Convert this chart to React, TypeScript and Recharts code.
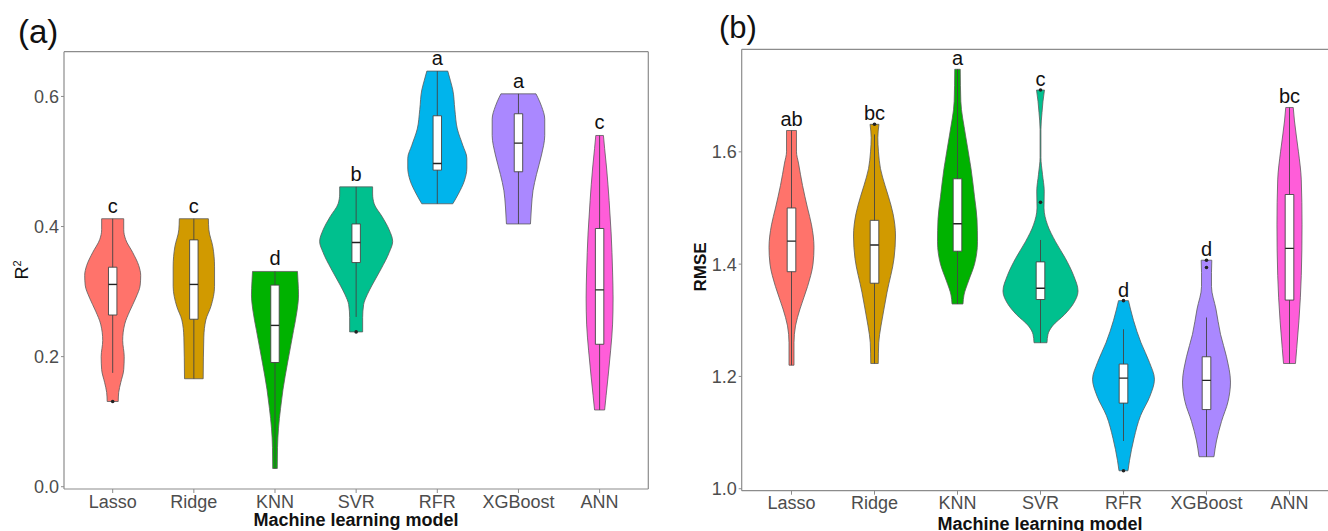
import { ComposedChart, Area, Line, Scatter, XAxis, YAxis, ReferenceLine } from "recharts";

const FONT = "'Liberation Sans', Arial, sans-serif";

const models = ["Lasso", "Ridge", "KNN", "SVR", "RFR", "XGBoost", "ANN"];
const fills = ["#FF736B", "#D19A00", "#00B200", "#00C08E", "#00B4EC", "#AA88FF", "#FF5DD9"];

// ---- panel (a): R2 ----
const r2Letters = ["c", "c", "d", "b", "a", "a", "c"];
const r2Q1 = [0.264, 0.2575, 0.191, 0.3446, 0.4867, 0.4842, 0.219];
const r2Median = [0.311, 0.311, 0.248, 0.3754, 0.497, 0.5283, 0.3026];
const r2Q3 = [0.3375, 0.3795, 0.31, 0.404, 0.5703, 0.5734, 0.397];
const r2WhiskerLow = [0.175, 0.166, 0.028, 0.261, 0.435, 0.404, 0.118];
const r2WhiskerHigh = [0.412, 0.412, 0.331, 0.461, 0.639, 0.604, 0.54];
const r2Outliers = [[0.131], [], [], [0.238], [], [], []];

// violin outlines: [value, half width in category units], bottom to top
const r2Lasso = [[0.131, 0.068], [0.145, 0.074], [0.16, 0.099], [0.18, 0.136], [0.2, 0.142], [0.225, 0.123], [0.25, 0.148], [0.27, 0.21], [0.29, 0.284], [0.31, 0.339], [0.325, 0.345], [0.34, 0.321], [0.36, 0.247], [0.38, 0.16], [0.395, 0.136], [0.412, 0.136]];
const r2Ridge = [[0.166, 0.115], [0.23, 0.123], [0.2565, 0.148], [0.277, 0.21], [0.308, 0.255], [0.338, 0.255], [0.369, 0.234], [0.395, 0.185], [0.412, 0.179]];
const r2Knn = [[0.028, 0.028], [0.06, 0.031], [0.09, 0.043], [0.12, 0.068], [0.15, 0.099], [0.19, 0.154], [0.24, 0.228], [0.27, 0.271], [0.295, 0.29], [0.315, 0.284], [0.331, 0.277]];
const r2Svr = [[0.238, 0.08], [0.26, 0.08], [0.28, 0.092], [0.295, 0.136], [0.31, 0.197], [0.335, 0.308], [0.36, 0.407], [0.377, 0.45], [0.395, 0.407], [0.415, 0.321], [0.435, 0.222], [0.45, 0.203], [0.461, 0.203]];
const r2Rfr = [[0.435, 0.191], [0.45, 0.259], [0.47, 0.333], [0.49, 0.364], [0.505, 0.364], [0.525, 0.314], [0.55, 0.247], [0.58, 0.216], [0.61, 0.191], [0.625, 0.16], [0.639, 0.129]];
const r2Xgb = [[0.404, 0.148], [0.43, 0.16], [0.455, 0.179], [0.48, 0.222], [0.51, 0.284], [0.54, 0.324], [0.565, 0.324], [0.585, 0.284], [0.598, 0.24], [0.604, 0.216]];
const r2Ann = [[0.118, 0.062], [0.14, 0.08], [0.17, 0.105], [0.21, 0.136], [0.25, 0.16], [0.29, 0.166], [0.33, 0.16], [0.39, 0.142], [0.44, 0.117], [0.49, 0.086], [0.52, 0.062], [0.54, 0.047]];
const r2Violins = [r2Lasso, r2Ridge, r2Knn, r2Svr, r2Rfr, r2Xgb, r2Ann];
const r2Ticks = [0, 0.2, 0.4, 0.6];

// ---- panel (b): RMSE ----
const rmseLetters = ["ab", "bc", "a", "c", "d", "d", "bc"];
const rmseQ1 = [1.3865, 1.366, 1.423, 1.337, 1.1525, 1.141, 1.336];
const rmseMedian = [1.441, 1.434, 1.472, 1.357, 1.197, 1.193, 1.428];
const rmseQ3 = [1.5, 1.478, 1.552, 1.404, 1.222, 1.235, 1.524];
const rmseWhiskerLow = [1.22, 1.223, 1.329, 1.26, 1.085, 1.057, 1.223];
const rmseWhiskerHigh = [1.638, 1.631, 1.747, 1.443, 1.284, 1.305, 1.679];
const rmseOutliers = [[], [1.649], [], [1.71, 1.51], [1.335, 1.032], [1.407, 1.394], []];

const rmseLasso = [[1.22, 0.03], [1.26, 0.03], [1.29, 0.048], [1.32, 0.102], [1.36, 0.193], [1.4, 0.259], [1.43, 0.271], [1.47, 0.241], [1.5, 0.193], [1.54, 0.133], [1.58, 0.084], [1.6, 0.06], [1.638, 0.06]];
const rmseRidge = [[1.223, 0.045], [1.26, 0.051], [1.29, 0.078], [1.32, 0.114], [1.35, 0.151], [1.41, 0.235], [1.45, 0.253], [1.49, 0.223], [1.52, 0.169], [1.54, 0.127], [1.57, 0.072], [1.6, 0.048], [1.625, 0.04], [1.649, 0.054]];
const rmseKnn = [[1.329, 0.066], [1.345, 0.078], [1.37, 0.133], [1.4, 0.205], [1.44, 0.241], [1.48, 0.235], [1.52, 0.205], [1.57, 0.163], [1.63, 0.096], [1.69, 0.04], [1.747, 0.033]];
const rmseSvr = [[1.26, 0.078], [1.275, 0.09], [1.29, 0.145], [1.31, 0.289], [1.33, 0.398], [1.352, 0.452], [1.38, 0.398], [1.41, 0.301], [1.44, 0.181], [1.47, 0.084], [1.5, 0.042], [1.53, 0.045], [1.56, 0.024], [1.59, 0.005], [1.64, 0.005], [1.67, 0.018], [1.69, 0.03], [1.71, 0.048]];
const rmseRfr = [[1.032, 0.054], [1.05, 0.072], [1.09, 0.127], [1.13, 0.205], [1.165, 0.319], [1.195, 0.373], [1.225, 0.313], [1.26, 0.211], [1.3, 0.12], [1.32, 0.084], [1.335, 0.06]];
const rmseXgb = [[1.057, 0.09], [1.085, 0.12], [1.12, 0.181], [1.155, 0.259], [1.19, 0.289], [1.235, 0.241], [1.275, 0.169], [1.32, 0.114], [1.36, 0.06], [1.385, 0.06], [1.407, 0.064]];
const rmseAnn = [[1.223, 0.072], [1.25, 0.087], [1.3, 0.114], [1.38, 0.142], [1.47, 0.151], [1.55, 0.142], [1.6, 0.108], [1.63, 0.081], [1.655, 0.06], [1.679, 0.045]];
const rmseViolins = [rmseLasso, rmseRidge, rmseKnn, rmseSvr, rmseRfr, rmseXgb, rmseAnn];
const rmseTicks = [1.0, 1.2, 1.4, 1.6];

const BOX = 0.052;
const X_DOMAIN = [0.4, 7.6];
const AXIS_GREY = "#8c8c8c";

type Seg = { pts: { x: number; y: number }[]; color: string; w: number };

function ViolinPanel(props: any) {
  const { violins, q1, med, q3, wl, wh, outliers, letters, yDomain, yTicks, width, margin, yAxisWidth, letterGap, tickFont } = props;

  const violinData = violins.map((prof: number[][], k: number) =>
    prof.map(([y, w]) => ({ y, r: [k + 1 - w, k + 1 + w] }))
  );
  const boxData = q1.map((lo: number, k: number) => [
    { y: lo, r: [k + 1 - BOX, k + 1 + BOX] },
    { y: q3[k], r: [k + 1 - BOX, k + 1 + BOX] },
  ]);

  const segs: Seg[] = [];
  const seg = (x1: number, y1: number, x2: number, y2: number, color = "#444", w = 0.9) => {
    segs.push({ pts: [{ x: x1, y: y1 }, { x: x2, y: y2 }], color, w });
  };
  violins.forEach((prof: number[][], k: number) => {
    const c = k + 1;
    const [yb, wb] = prof[0];
    const [yt, wt] = prof[prof.length - 1];
    seg(c - wb, yb, c + wb, yb, "#5a5a5a", 0.8);
    seg(c - wt, yt, c + wt, yt, "#5a5a5a", 0.8);
    seg(c, wl[k], c, q1[k]);
    seg(c, q3[k], c, wh[k]);
    seg(c - BOX, q1[k], c + BOX, q1[k]);
    seg(c - BOX, q3[k], c + BOX, q3[k]);
    seg(c - BOX, q1[k], c - BOX, q3[k]);
    seg(c + BOX, q1[k], c + BOX, q3[k]);
    seg(c - BOX, med[k], c + BOX, med[k], "#222", 1.4);
  });

  const outlierPts = outliers.flatMap((vals: number[], k: number) => vals.map((v) => ({ x: k + 1, y: v })));
  const letterPts = violins.map((prof: number[][], k: number) => ({
    x: k + 1,
    y: prof[prof.length - 1][0],
    t: letters[k],
  }));

  const tickStyle = { fill: "#4d4d4d", fontSize: tickFont, fontFamily: FONT };

  return (
    <ComposedChart width={width} height={531} layout="vertical" margin={margin}>
      <XAxis
        type="number"
        dataKey="x"
        domain={X_DOMAIN}
        ticks={[1, 2, 3, 4, 5, 6, 7]}
        tickFormatter={(v: number) => models[v - 1]}
        allowDataOverflow
        height={30}
        tickSize={4}
        tickMargin={2}
        tick={tickStyle}
        axisLine={{ stroke: AXIS_GREY, strokeWidth: 1.2 }}
        tickLine={{ stroke: AXIS_GREY }}
        interval={0}
      />
      <YAxis
        type="number"
        dataKey="y"
        reversed
        domain={yDomain}
        ticks={yTicks}
        tickFormatter={(v: number) => v.toFixed(1)}
        allowDataOverflow
        width={yAxisWidth}
        tickSize={3}
        tickMargin={2}
        tick={tickStyle}
        axisLine={{ stroke: AXIS_GREY, strokeWidth: 1.2 }}
        tickLine={{ stroke: AXIS_GREY }}
      />
      <ReferenceLine y={yDomain[1]} stroke={AXIS_GREY} strokeWidth={1.2} />
      <ReferenceLine x={X_DOMAIN[1]} stroke={AXIS_GREY} strokeWidth={1.2} />
      {violinData.map((d: any[], k: number) => (
        <Area
          key={"v" + k}
          data={d}
          dataKey="r"
          type="monotone"
          fill={fills[k]}
          fillOpacity={1}
          stroke="#5a5a5a"
          strokeWidth={0.8}
          dot={false}
          activeDot={false}
          isAnimationActive={false}
        />
      ))}
      {boxData.map((d: any[], k: number) => (
        <Area
          key={"b" + k}
          data={d}
          dataKey="r"
          type="linear"
          fill="#ffffff"
          fillOpacity={1}
          stroke="none"
          dot={false}
          activeDot={false}
          isAnimationActive={false}
        />
      ))}
      {segs.map((s, i) => (
        <Line
          key={"s" + i}
          data={s.pts}
          dataKey="x"
          type="linear"
          stroke={s.color}
          strokeWidth={s.w}
          dot={false}
          activeDot={false}
          isAnimationActive={false}
        />
      ))}
      <Scatter
        data={outlierPts}
        isAnimationActive={false}
        shape={(p: any) => <circle cx={p.cx} cy={p.cy} r={1.8} fill="#222" />}
      />
      <Scatter
        data={letterPts}
        isAnimationActive={false}
        shape={(p: any) => (
          <text x={p.cx} y={p.cy - letterGap} textAnchor="middle" fontSize={20} fontFamily={FONT} fill="#111">
            {p.payload.t}
          </text>
        )}
      />
    </ComposedChart>
  );
}

export default function App() {
  const abs = (s: any) => ({ position: "absolute" as const, lineHeight: 1, whiteSpace: "nowrap" as const, ...s });
  return (
    <div style={{ position: "absolute", left: 0, top: 0, width: 1328, height: 531, overflow: "hidden", background: "#fff", fontFamily: FONT }}>
      <div style={{ position: "absolute", left: 0, top: 0 }}>
        <ViolinPanel
          violins={r2Violins}
          q1={r2Q1}
          med={r2Median}
          q3={r2Q3}
          wl={r2WhiskerLow}
          wh={r2WhiskerHigh}
          outliers={r2Outliers}
          letters={r2Letters}
          yDomain={[-0.0035, 0.6688]}
          yTicks={r2Ticks}
          width={664}
          margin={{ top: 51.7, right: 15.7, bottom: 12, left: 0 }}
          yAxisWidth={64}
          letterGap={6}
          tickFont={18}
        />
      </div>
      <div style={{ position: "absolute", left: 664, top: 0 }}>
        <ViolinPanel
          violins={rmseViolins}
          q1={rmseQ1}
          med={rmseMedian}
          q3={rmseQ3}
          wl={rmseWhiskerLow}
          wh={rmseWhiskerHigh}
          outliers={rmseOutliers}
          letters={rmseLetters}
          yDomain={[0.9965, 1.7826]}
          yTicks={rmseTicks}
          width={700}
          margin={{ top: 49.3, right: 24.7, bottom: 10.3, left: 0 }}
          yAxisWidth={77.7}
          letterGap={4}
          tickFont={18}
        />
      </div>

      <div style={abs({ left: 18, top: 15, fontSize: 33, color: "#111" })}>(a)</div>
      <div style={abs({ left: 719, top: 12, fontSize: 31, color: "#111" })}>(b)</div>

      <div style={abs({ left: 22, top: 270, fontSize: 18, color: "#111", transform: "translate(-50%, -50%) rotate(-90deg)" })}>
        R<sup style={{ fontSize: 11, verticalAlign: "super", lineHeight: 0 }}>2</sup>
      </div>
      <div style={abs({ left: 700, top: 267, fontSize: 17, fontWeight: 700, color: "#111", transform: "translate(-50%, -50%) rotate(-90deg)" })}>
        RMSE
      </div>

      <div style={abs({ left: 156, width: 400, top: 511, fontSize: 18, fontWeight: 700, color: "#111", textAlign: "center" })}>
        Machine learning model
      </div>
      <div style={abs({ left: 840, width: 400, top: 515, fontSize: 18, fontWeight: 700, color: "#111", textAlign: "center" })}>
        Machine learning model
      </div>
    </div>
  );
}
